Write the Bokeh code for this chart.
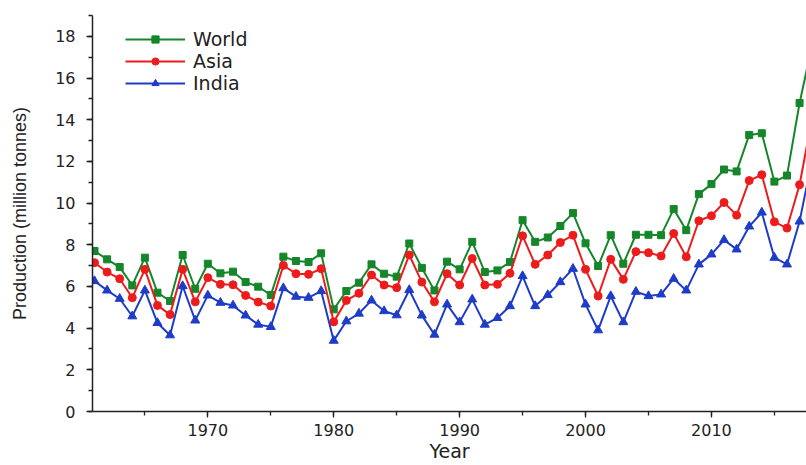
from bokeh.plotting import figure
from bokeh.models import SingleIntervalTicker, Legend, LegendItem, Range1d
from bokeh.embed import file_html
from bokeh.resources import INLINE

years = list(range(1961, 2019))

world = [7.70, 7.30, 6.93, 6.05, 7.38, 5.70, 5.30, 7.51, 5.89, 7.09,
         6.63, 6.71, 6.21, 5.99, 5.59, 7.43, 7.22, 7.17, 7.59, 4.90,
         5.78, 6.18, 7.06, 6.61, 6.47, 8.06, 6.89, 5.81, 7.19, 6.82,
         8.14, 6.69, 6.77, 7.17, 9.18, 8.14, 8.35, 8.90, 9.52, 8.07,
         6.98, 8.46, 7.09, 8.48, 8.48, 8.46, 9.71, 8.70, 10.43, 10.91,
         11.61, 11.52, 13.27, 13.35, 11.03, 11.32, 14.80, 17.60]

asia = [7.14, 6.69, 6.37, 5.46, 6.82, 5.09, 4.65, 6.82, 5.26, 6.42,
        6.10, 6.08, 5.57, 5.25, 5.06, 7.01, 6.61, 6.58, 6.85, 4.30,
        5.33, 5.67, 6.55, 6.07, 5.94, 7.51, 6.21, 5.26, 6.61, 6.07,
        7.34, 6.07, 6.10, 6.63, 8.43, 7.06, 7.51, 8.11, 8.46, 6.82,
        5.54, 7.30, 6.34, 7.67, 7.62, 7.46, 8.54, 7.42, 9.15, 9.39,
        10.03, 9.42, 11.08, 11.36, 9.10, 8.80, 10.88, 14.10]

india = [6.26, 5.81, 5.41, 4.57, 5.81, 4.25, 3.66, 6.02, 4.37, 5.57,
         5.22, 5.09, 4.61, 4.17, 4.06, 5.92, 5.51, 5.46, 5.78, 3.40,
         4.33, 4.70, 5.33, 4.82, 4.62, 5.83, 4.61, 3.69, 5.14, 4.29,
         5.38, 4.17, 4.49, 5.06, 6.50, 5.06, 5.59, 6.21, 6.85, 5.14,
         3.90, 5.54, 4.29, 5.75, 5.54, 5.62, 6.37, 5.81, 7.06, 7.54,
         8.23, 7.78, 8.88, 9.55, 7.38, 7.06, 9.12, 12.10]

GREEN = "#15862a"
RED = "#ec1c1c"
BLUE = "#1e3cc8"
WIDE = "DejaVu Sans"
NARROW = "Liberation Sans"
INK = "#222222"

p = figure(width=806, height=465, output_backend="svg", toolbar_location=None,
           x_range=Range1d(1960.84, 2017.55), y_range=Range1d(0, 19),
           min_border_left=92, min_border_right=0, min_border_top=15,
           min_border_bottom=54)
p.outline_line_color = None
p.grid.visible = False
p.background_fill_color = "white"

lw = p.line(years, world, color=GREEN, line_width=2)
mw = p.scatter(years, world, marker="square", size=7, color=GREEN)
la = p.line(years, asia, color=RED, line_width=2)
ma = p.scatter(years, asia, marker="circle", size=8, color=RED)
li = p.line(years, india, color=BLUE, line_width=2)
mi = p.scatter(years, india, marker="triangle", size=9, color=BLUE)

for ax in (p.xaxis[0], p.yaxis[0]):
    ax.axis_line_width = 1.5
    ax.axis_line_color = INK
    ax.major_tick_line_color = INK
    ax.minor_tick_line_color = INK
    ax.major_tick_line_width = 1.3
    ax.minor_tick_line_width = 1.3
    ax.major_tick_in = 0
    ax.minor_tick_in = 0
    ax.major_tick_out = 6
    ax.minor_tick_out = 4
    ax.major_label_text_font = WIDE
    ax.major_label_text_font_size = "16px"
    ax.major_label_text_color = INK
    ax.axis_label_text_font_style = "normal"
    ax.axis_label_text_color = INK

p.xaxis.ticker = SingleIntervalTicker(interval=10, num_minor_ticks=2)
p.yaxis.ticker = SingleIntervalTicker(interval=2, num_minor_ticks=2)

p.xaxis.axis_label = "Year"
p.xaxis.axis_label_text_font = WIDE
p.xaxis.axis_label_text_font_size = "19px"
p.xaxis.major_label_standoff = 6
p.xaxis.axis_label_standoff = 1

p.yaxis.axis_label = "Production (million tonnes)"
p.yaxis.axis_label_text_font = NARROW
p.yaxis.axis_label_text_font_size = "18px"
p.yaxis.major_label_standoff = 11
p.yaxis.axis_label_standoff = 22

legend = Legend(items=[
    LegendItem(label="World", renderers=[lw, mw]),
    LegendItem(label="Asia", renderers=[la, ma]),
    LegendItem(label="India", renderers=[li, mi]),
], location=(33, 317))
legend.border_line_color = None
legend.background_fill_alpha = 0
legend.label_text_font = WIDE
legend.label_text_font_size = "19px"
legend.label_text_color = INK
legend.glyph_width = 60
legend.glyph_height = 18
legend.label_height = 18
legend.spacing = 0
legend.label_standoff = 8
legend.margin = 0
legend.padding = 0
p.add_layout(legend)

open("out.html", "w").write(file_html(p, INLINE))
